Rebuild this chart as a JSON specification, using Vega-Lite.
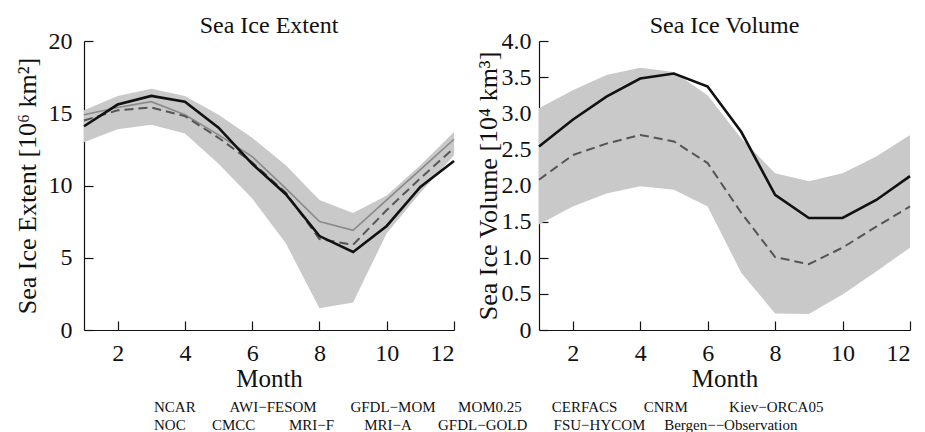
{
  "$schema": "https://vega.github.io/schema/vega-lite/v6.json",
  "background": "white",
  "padding": {"left": 13, "top": 14, "right": 2, "bottom": 2},
  "config": {
    "font": "Liberation Serif",
    "view": {"stroke": null},
    "axis": {
      "grid": false,
      "domainColor": "#111",
      "domainWidth": 1.2,
      "tickColor": "#111",
      "tickWidth": 1.2,
      "tickSize": -9,
      "labelPadding": 20,
      "labelOverlap": false,
      "labelFont": "Liberation Serif",
      "labelFontSize": 24,
      "labelColor": "#111",
      "titleFont": "Liberation Serif",
      "titleFontSize": 26,
      "titleFontWeight": "normal",
      "titleColor": "#111"
    },
    "title": {"font": "Liberation Serif", "fontSize": 24, "fontWeight": "normal", "color": "#111"}
  },
  "title": {
    "text": [
      "NCAR\u00a0\u00a0\u00a0\u00a0\u00a0\u00a0\u00a0\u00a0\u00a0AWI−FESOM\u00a0\u00a0\u00a0\u00a0\u00a0\u00a0\u00a0\u00a0\u00a0GFDL−MOM\u00a0\u00a0\u00a0\u00a0\u00a0\u00a0MOM0.25\u00a0\u00a0\u00a0\u00a0\u00a0\u00a0\u00a0\u00a0CERFACS\u00a0\u00a0\u00a0\u00a0\u00a0\u00a0\u00a0CNRM\u00a0\u00a0\u00a0\u00a0\u00a0\u00a0\u00a0\u00a0\u00a0\u00a0\u00a0Kiev−ORCA05",
      "NOC\u00a0\u00a0\u00a0\u00a0\u00a0\u00a0\u00a0CMCC\u00a0\u00a0\u00a0\u00a0\u00a0\u00a0\u00a0\u00a0\u00a0MRI−F\u00a0\u00a0\u00a0\u00a0\u00a0\u00a0\u00a0\u00a0MRI−A\u00a0\u00a0\u00a0\u00a0\u00a0\u00a0\u00a0GFDL−GOLD\u00a0\u00a0\u00a0\u00a0\u00a0\u00a0\u00a0FSU−HYCOM\u00a0\u00a0\u00a0\u00a0\u00a0Bergen−−Observation"
    ],
    "orient": "bottom",
    "anchor": "start",
    "align": "left",
    "fontSize": 15,
    "lineHeight": 18,
    "offset": 9,
    "dx": 140
  },
  "datasets": {
    "extent": [
      {"month": 1, "lo": 13.0, "hi": 15.2, "black": 14.1, "grey": 14.9, "dashed": 14.5},
      {"month": 2, "lo": 13.9, "hi": 16.2, "black": 15.6, "grey": 15.4, "dashed": 15.2},
      {"month": 3, "lo": 14.2, "hi": 16.7, "black": 16.2, "grey": 15.8, "dashed": 15.4},
      {"month": 4, "lo": 13.6, "hi": 16.2, "black": 15.8, "grey": 14.9, "dashed": 14.8},
      {"month": 5, "lo": 11.5, "hi": 14.9, "black": 14.0, "grey": 13.5, "dashed": 13.3},
      {"month": 6, "lo": 9.1, "hi": 13.3, "black": 11.5, "grey": 12.0, "dashed": 11.6},
      {"month": 7, "lo": 6.0, "hi": 11.4, "black": 9.4, "grey": 9.8, "dashed": 9.5},
      {"month": 8, "lo": 1.5, "hi": 9.0, "black": 6.5, "grey": 7.5, "dashed": 6.3},
      {"month": 9, "lo": 1.9, "hi": 8.1, "black": 5.4, "grey": 6.9, "dashed": 5.9},
      {"month": 10, "lo": 6.7, "hi": 9.3, "black": 7.2, "grey": 9.0, "dashed": 8.3},
      {"month": 11, "lo": 9.5, "hi": 11.4, "black": 9.9, "grey": 11.1, "dashed": 10.5},
      {"month": 12, "lo": 12.1, "hi": 13.7, "black": 11.7, "grey": 13.2, "dashed": 12.6}
    ],
    "volume": [
      {"month": 1, "lo": 1.46, "hi": 3.07, "black": 2.54, "dashed": 2.08},
      {"month": 2, "lo": 1.71, "hi": 3.32, "black": 2.91, "dashed": 2.42},
      {"month": 3, "lo": 1.89, "hi": 3.53, "black": 3.23, "dashed": 2.58},
      {"month": 4, "lo": 1.99, "hi": 3.63, "black": 3.48, "dashed": 2.70},
      {"month": 5, "lo": 1.94, "hi": 3.57, "black": 3.55, "dashed": 2.61},
      {"month": 6, "lo": 1.71, "hi": 3.25, "black": 3.37, "dashed": 2.31},
      {"month": 7, "lo": 0.79, "hi": 2.65, "black": 2.74, "dashed": 1.62},
      {"month": 8, "lo": 0.23, "hi": 2.17, "black": 1.87, "dashed": 1.01},
      {"month": 9, "lo": 0.22, "hi": 2.06, "black": 1.55, "dashed": 0.91},
      {"month": 10, "lo": 0.49, "hi": 2.17, "black": 1.55, "dashed": 1.14},
      {"month": 11, "lo": 0.81, "hi": 2.40, "black": 1.80, "dashed": 1.43},
      {"month": 12, "lo": 1.14, "hi": 2.70, "black": 2.13, "dashed": 1.71}
    ]
  },
  "bounds": "flush",
  "spacing": 85,
  "hconcat": [
    {
      "width": 370,
      "height": 289,
      "title": {"text": "Sea Ice Extent", "offset": -9},
      "data": {"name": "extent"},
      "encoding": {
        "x": {"field": "month", "type": "quantitative", "scale": {"domain": [1, 12], "nice": false, "zero": false},
              "axis": {"title": "Month", "titleFontSize": 25, "values": [2, 4, 6, 8, 10, 12], "titlePadding": 1}}
      },
      "layer": [
        {"mark": {"type": "area", "color": "#c9c9c9", "opacity": 1},
         "encoding": {
           "y": {"field": "lo", "type": "quantitative", "scale": {"domain": [0, 20]},
                 "axis": {"title": "Sea Ice Extent [10⁶ km²]", "values": [0, 5, 10, 15, 20], "tickCount": 10, "titlePadding": 8, "labelPadding": 21}},
           "y2": {"field": "hi"}}},
        {"mark": {"type": "line", "color": "#8a8a8a", "strokeWidth": 1.6}, "encoding": {"y": {"field": "grey", "type": "quantitative"}}},
        {"mark": {"type": "line", "color": "#555555", "strokeWidth": 2, "strokeDash": [9, 5]}, "encoding": {"y": {"field": "dashed", "type": "quantitative"}}},
        {"mark": {"type": "line", "color": "#111111", "strokeWidth": 2.6}, "encoding": {"y": {"field": "black", "type": "quantitative"}}}
      ]
    },
    {
      "width": 371,
      "height": 289,
      "title": {"text": "Sea Ice Volume", "offset": -9},
      "data": {"name": "volume"},
      "encoding": {
        "x": {"field": "month", "type": "quantitative", "scale": {"domain": [1, 12], "nice": false, "zero": false},
              "axis": {"title": "Month", "titleFontSize": 25, "values": [2, 4, 6, 8, 10, 12], "titlePadding": 1}}
      },
      "layer": [
        {"mark": {"type": "area", "color": "#c9c9c9", "opacity": 1},
         "encoding": {
           "y": {"field": "lo", "type": "quantitative", "scale": {"domain": [0, 4]},
                 "axis": {"title": "Sea Ice Volume [10⁴ km³]", "values": [0, 0.5, 1, 1.5, 2, 2.5, 3, 3.5, 4], "tickCount": 12, "labelExpr": "datum.value == 0 ? '0' : format(datum.value, '.1f')", "titlePadding": 0, "labelPadding": 17}},
           "y2": {"field": "hi"}}},
        {"mark": {"type": "line", "color": "#555555", "strokeWidth": 2, "strokeDash": [9, 5]}, "encoding": {"y": {"field": "dashed", "type": "quantitative"}}},
        {"mark": {"type": "line", "color": "#111111", "strokeWidth": 2.6}, "encoding": {"y": {"field": "black", "type": "quantitative"}}}
      ]
    }
  ]
}
